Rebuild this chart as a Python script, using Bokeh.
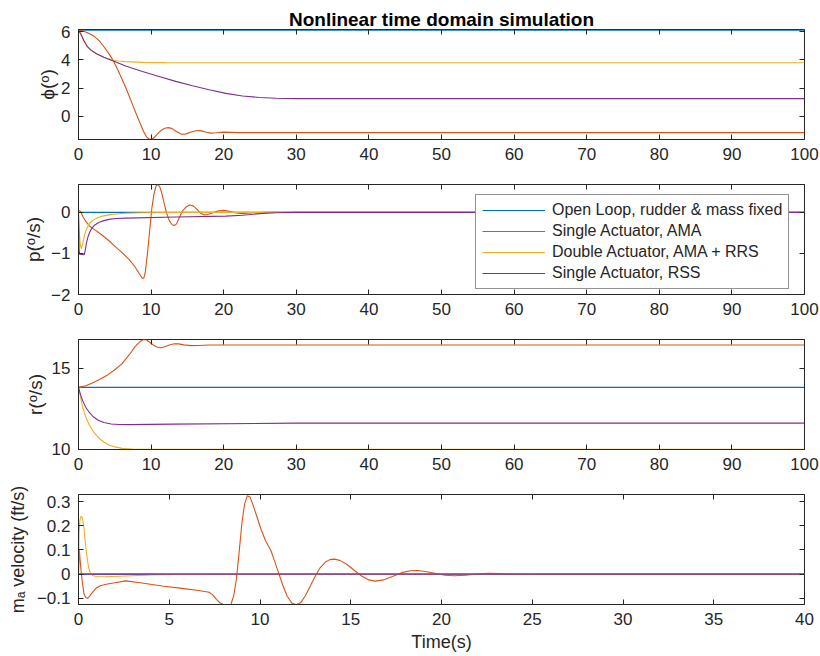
from bokeh.plotting import figure
from bokeh.layouts import column
from bokeh.models import Range1d, LinearAxis, FixedTicker, CustomJSTickFormatter
from bokeh.embed import file_html
from bokeh.resources import INLINE

# ---------------- data ----------------
series_names = ["Open Loop, rudder & mass fixed", "Single Actuator, AMA",
                "Double Actuator, AMA + RRS", "Single Actuator, RSS"]
series_colors = ["#0072BD", "#D95319", "#EDB120", "#7E2F8E"]

t_ticks_long = [0, 10, 20, 30, 40, 50, 60, 70, 80, 90, 100]
t_ticks_short = [0, 5, 10, 15, 20, 25, 30, 35, 40]
phi_yticks = [0, 2, 4, 6]
p_yticks = [-2, -1, 0]
r_yticks = [10, 15]
v_yticks = [-0.1, 0, 0.1, 0.2, 0.3]

# panel 1: roll angle phi (deg)
phi_blue_t = [0, 100]
phi_blue = [6.1, 6.1]
phi_red_t = [0, 0.5, 1, 1.5, 2.2, 2.85, 3.4, 4.0, 4.7, 5.3, 6.0, 6.5, 7.0, 7.5, 8.0, 8.5,
             9.0, 9.4, 9.8, 10.2, 10.6, 11.0, 11.5, 12.0, 12.4, 12.9, 13.5, 14.2, 14.8,
             15.5, 16.2, 16.8, 17.5, 18.2, 19, 20, 22, 100]
phi_red = [6.1, 6.05, 5.97, 5.86, 5.65, 5.36, 5.0, 4.58, 4.03, 3.42, 2.62, 2.04, 1.4,
           0.75, 0.1, -0.52, -1.12, -1.48, -1.65, -1.6, -1.42, -1.18, -0.96, -0.84, -0.81,
           -0.88, -1.08, -1.28, -1.25, -1.12, -1.03, -1.02, -1.12, -1.2, -1.17, -1.13,
           -1.16, -1.16]
phi_yel_t = [0, 0.3, 0.7, 1.2, 1.9, 2.6, 3.3, 4, 4.7, 5.5, 6.5, 8.8, 12, 20, 100]
phi_yel = [6.1, 5.85, 5.4, 4.95, 4.62, 4.4, 4.22, 4.08, 3.99, 3.92, 3.87, 3.82, 3.8,
           3.79, 3.79]
phi_pur_t = [0, 0.3, 0.7, 1.2, 1.7, 2.4, 3.5, 4.7, 6.5, 8.8, 11.1, 13.4, 15.7, 18, 20.3,
             22.6, 24.9, 27.2, 30, 100]
phi_pur = [6.1, 5.85, 5.4, 4.95, 4.69, 4.45, 4.18, 3.94, 3.56, 3.17, 2.82, 2.47, 2.16,
           1.88, 1.62, 1.44, 1.33, 1.28, 1.25, 1.25]

# panel 2: roll rate p (deg/s)
p_blue_t = [0, 100]
p_blue = [0, 0]
p_red_t = [0, 0.3, 0.6, 1, 1.5, 2.2, 3, 4, 5, 6, 7, 7.8, 8.4, 8.8, 9.0, 9.2, 9.5, 9.8,
           10.1, 10.4, 10.7, 10.9, 11.2, 11.5, 11.8, 12.1, 12.5, 12.9, 13.2, 13.5, 13.9,
           14.3, 14.8, 15.3, 15.8, 16.3, 16.8, 17.3, 17.8, 18.5, 19.3, 20, 20.8, 21.5,
           22.5, 24, 26, 100]
p_red = [0.05, 0.02, -0.1, -0.22, -0.33, -0.42, -0.52, -0.66, -0.82, -0.98, -1.15, -1.33,
         -1.5, -1.61, -1.6, -1.45, -1.0, -0.45, 0.1, 0.45, 0.65, 0.68, 0.62, 0.45, 0.22,
         0.0, -0.2, -0.3, -0.32, -0.28, -0.12, 0.03, 0.13, 0.18, 0.16, 0.08, -0.02, -0.06,
         -0.05, -0.01, 0.04, 0.05, 0.03, -0.01, -0.03, -0.01, 0, 0]
p_yel_t = [0, 0.1, 0.25, 0.4, 0.6, 0.8, 1.0, 1.4, 1.9, 2.6, 3.3, 4.2, 5.1, 6.5, 8.8, 15,
           100]
p_yel = [0, -0.45, -0.8, -0.88, -0.75, -0.58, -0.45, -0.3, -0.2, -0.13, -0.09, -0.06,
         -0.04, -0.02, -0.01, 0, 0]
p_pur_t = [0, 0.08, 0.15, 0.8, 0.95, 1.1, 1.3, 1.6, 1.9, 2.3, 2.85, 3.5, 4.2, 5.2, 6.5,
           13.4, 20.3, 22.6, 24.9, 27.2, 30, 100]
p_pur = [0, -0.9, -1.02, -1.03, -0.9, -0.74, -0.6, -0.46, -0.37, -0.3, -0.24, -0.2, -0.17,
         -0.15, -0.14, -0.11, -0.09, -0.07, -0.03, -0.01, 0, 0]

# panel 3: yaw rate r (deg/s)
r_blue_t = [0, 100]
r_blue = [13.83, 13.83]
r_red_t = [0, 1, 2, 3, 4, 5, 6, 7, 7.8, 8.5, 9.0, 9.4, 9.8, 10.3, 10.8, 11.3, 11.8, 12.5,
           13.2, 13.8, 14.5, 15.5, 16.5, 18, 100]
r_red = [13.83, 13.93, 14.12, 14.35, 14.6, 14.92, 15.3, 15.85, 16.35, 16.68, 16.79, 16.76,
         16.62, 16.45, 16.33, 16.28, 16.33, 16.45, 16.53, 16.52, 16.46, 16.41, 16.42,
         16.45, 16.45]
r_yel_t = [0, 0.3, 0.6, 1, 1.5, 2, 2.5, 3, 3.5, 4.2, 5, 6, 7.4, 9.2, 100]
r_yel = [13.83, 13.2, 12.55, 12.0, 11.5, 11.13, 10.85, 10.62, 10.45, 10.27, 10.15, 10.06,
         10.02, 10.0, 10.0]
r_pur_t = [0, 0.3, 0.6, 1, 1.5, 2, 2.7, 3.5, 4.5, 5.5, 7, 13, 30, 100]
r_pur = [13.83, 13.35, 12.98, 12.6, 12.28, 12.03, 11.8, 11.66, 11.57, 11.54, 11.53, 11.56,
         11.62, 11.62]

# panel 4: moving-mass velocity (ft/s)
v_blue_t = [0, 40]
v_blue = [0, 0]
v_red_t = [0, 0.04, 0.12, 0.22, 0.3, 0.4, 0.5, 0.6, 0.75, 0.96, 1.2, 1.6, 2.0, 2.6, 3.5,
           4.6, 5.7, 6.6, 7.2, 7.4, 7.6, 7.8, 8.0, 8.4, 8.55, 8.7, 8.85, 9.0, 9.15, 9.3,
           9.45, 9.6, 9.8, 10.05, 10.3, 10.6, 10.8, 11.0, 11.25, 11.5, 11.75, 12.0, 12.25,
           12.5, 12.75, 13.0, 13.3, 13.6, 13.85, 14.1, 14.4, 14.8, 15.2, 15.6, 16.0, 16.35,
           16.8, 17.3, 17.8, 18.3, 18.7, 19.2, 19.7, 20.2, 20.7, 21.3, 21.9, 22.6, 23.3,
           24, 26, 40]
v_red = [0, 0.105, 0.03, -0.04, -0.08, -0.097, -0.1, -0.093, -0.078, -0.059, -0.048,
         -0.041, -0.036, -0.028, -0.037, -0.049, -0.059, -0.068, -0.075, -0.086, -0.105,
         -0.12, -0.127, -0.125, -0.09, -0.02, 0.09, 0.21, 0.29, 0.325, 0.32, 0.29, 0.245,
         0.187, 0.139, 0.098, 0.055, 0.01, -0.045, -0.092, -0.12, -0.127, -0.118, -0.09,
         -0.052, -0.015, 0.025, 0.05, 0.06, 0.062, 0.057, 0.04, 0.015, -0.008, -0.024,
         -0.029, -0.024, -0.01, 0.006, 0.014, 0.015, 0.01, 0.002, -0.005, -0.007, -0.005,
         0.0, 0.003, 0.002, 0, 0, 0]
v_yel_t = [0, 0.03, 0.08, 0.15, 0.22, 0.3, 0.38, 0.46, 0.55, 0.65, 0.8, 1.0, 1.5, 2.6, 4,
           5.4, 40]
v_yel = [0, 0.17, 0.225, 0.24, 0.232, 0.19, 0.13, 0.075, 0.03, 0.005, -0.007, -0.01,
         -0.011, -0.008, -0.004, -0.001, 0]
v_pur_t = [0, 40]
v_pur = [0, 0]

# ---------------- styling helpers ----------------
FONT = "Liberation Sans"
AX = "#262626"
TICK_FS = "17px"
LABEL_FS = "18px"
LW = 1.1


def make_fig(xr, yr, xticks, yticks, top, bottom, ylabel, ylabel_standoff,
             ylabel_fs="19px", xlabel=None, title=None, label_over=None):
    p = figure(frame_width=726, frame_height=110, min_border_left=78,
               min_border_right=16, min_border_top=top, min_border_bottom=bottom,
               x_range=Range1d(*xr), y_range=Range1d(*yr), output_backend="svg",
               toolbar_location=None, tools="", title=title)
    p.xgrid.visible = False
    p.ygrid.visible = False
    p.outline_line_color = AX
    p.outline_line_alpha = 1
    p.outline_line_width = 1
    p.background_fill_color = "white"
    p.border_fill_color = "white"
    for ax, ticks in ((p.xaxis[0], xticks), (p.yaxis[0], yticks)):
        ax.ticker = FixedTicker(ticks=ticks)
        ax.major_tick_in = 5
        ax.major_tick_out = 0
        ax.minor_tick_line_color = None
        ax.axis_line_color = AX
        ax.major_tick_line_color = AX
        ax.major_label_text_font = FONT
        ax.major_label_text_font_size = TICK_FS
        ax.major_label_text_color = AX
        ax.major_label_standoff = 8
        ax.axis_label_text_font = FONT
        ax.axis_label_text_font_size = LABEL_FS
        ax.axis_label_text_font_style = "normal"
        ax.axis_label_text_color = AX
    if label_over:
        p.yaxis[0].major_label_overrides = label_over
    p.yaxis[0].axis_label = ylabel
    p.yaxis[0].axis_label_text_font_size = ylabel_fs
    p.yaxis[0].axis_label_standoff = ylabel_standoff
    if xlabel:
        p.xaxis[0].axis_label = xlabel
        p.xaxis[0].axis_label_standoff = 4
    # box ticks on top and right
    for loc, ticks in (("above", xticks), ("right", yticks)):
        a = LinearAxis(ticker=FixedTicker(ticks=ticks),
                       formatter=CustomJSTickFormatter(code="return ''"),
                       major_tick_in=5, major_tick_out=0, minor_tick_line_color=None,
                       axis_line_color=None, major_tick_line_color=AX,
                       major_label_text_font_size="0px",
                       major_label_standoff=(3 if (title and loc == "above") else 0))
        p.add_layout(a, loc)
    if title:
        p.title.text_font = FONT
        p.title.text_font_size = "19px"
        p.title.text_font_style = "bold"
        p.title.text_color = "#000000"
        p.title.align = "center"
        p.title.standoff = 0
    return p


def add_lines(p, data, legend=False):
    for (tt, vv), name, col in zip(data, series_names, series_colors):
        if legend:
            p.line(tt, vv, line_color=col, line_width=LW, legend_label=name)
        else:
            p.line(tt, vv, line_color=col, line_width=LW)


p1 = make_fig((0, 100), (-1.65, 6.15), t_ticks_long, phi_yticks, 29, 35,
              "ϕ(ᵒ)", 0, title="Nonlinear time domain simulation")
add_lines(p1, [(phi_blue_t, phi_blue), (phi_red_t, phi_red),
               (phi_yel_t, phi_yel), (phi_pur_t, phi_pur)])

p2 = make_fig((0, 100), (-2, 0.68), t_ticks_long, p_yticks, 10, 35, "p(ᵒ/s)", 4)
add_lines(p2, [(p_blue_t, p_blue), (p_red_t, p_red),
               (p_yel_t, p_yel), (p_pur_t, p_pur)], legend=True)
lg = p2.legend[0]
lg.location = (397, 5)
lg.label_text_font = FONT
lg.label_text_font_size = "16px"
lg.label_text_color = AX
lg.glyph_width = 63
lg.glyph_height = 18
lg.label_height = 18
lg.label_standoff = 7
lg.spacing = 3
lg.padding = 6
lg.margin = 0
lg.border_line_color = AX
lg.border_line_width = 1
lg.background_fill_color = "white"
lg.background_fill_alpha = 1

p3 = make_fig((0, 100), (9.99, 16.79), t_ticks_long, r_yticks, 10, 30, "r(ᵒ/s)", 3)
add_lines(p3, [(r_blue_t, r_blue), (r_red_t, r_red),
               (r_yel_t, r_yel), (r_pur_t, r_pur)])

p4 = make_fig((0, 40), (-0.126, 0.33), t_ticks_short, v_yticks, 15, 52,
              "mₐ velocity (ft/s)", 6, ylabel_fs="18px", xlabel="Time(s)",
              label_over={0: "0"})
add_lines(p4, [(v_blue_t, v_blue), (v_red_t, v_red),
               (v_yel_t, v_yel), (v_pur_t, v_pur)])

layout = column(p1, p2, p3, p4, spacing=0)
open("out.html", "w").write(file_html(layout, INLINE))
